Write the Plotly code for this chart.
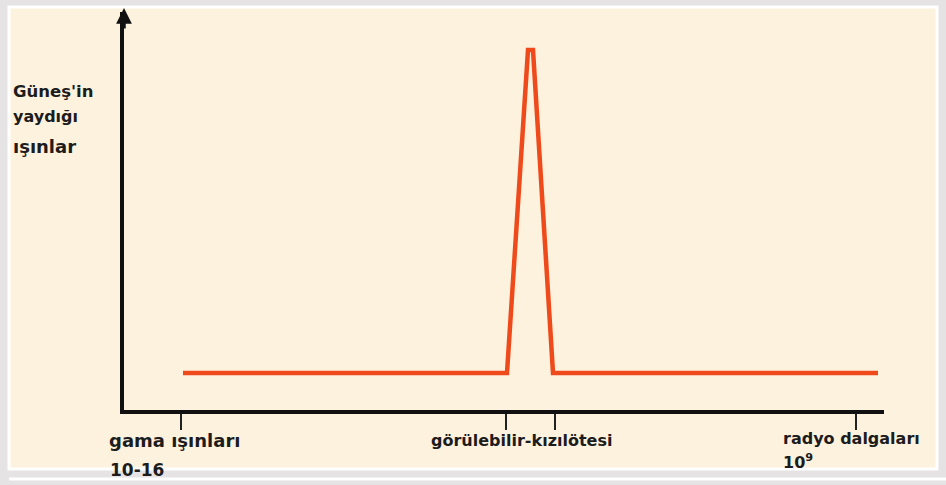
import plotly.graph_objects as go

# spectrum position (arbitrary units along the axis) and emitted intensity
spectrum_pos = [59, 383, 404, 409, 429, 754]
emission = [37, 37, 360, 360, 37, 37]

# marked positions on the horizontal axis
tick_pos = [57, 382, 431, 732]

W, H = 946, 485
L, R, T, B = 124, 62, 12, 75
PW, PH = W - L - R, H - T - B


def px(x):
    return (x - L) / PW


def py(y):
    return (H - B - y) / PH


FONT = "DejaVu Sans, Liberation Sans, Arial, sans-serif"
TXT = "#1c1c1c"

fig = go.Figure()
fig.add_trace(
    go.Scatter(
        x=spectrum_pos,
        y=emission,
        mode="lines",
        line=dict(color="#ef4a1c", width=4.5),
        hoverinfo="skip",
    )
)

# cream panel with white border
fig.add_shape(
    type="rect", xref="paper", yref="paper",
    x0=px(9), x1=px(937), y0=py(7), y1=py(469),
    fillcolor="#fcf2de", line=dict(color="white", width=3), layer="below",
)
fig.add_shape(
    type="line", xref="paper", yref="paper",
    x0=px(9), x1=px(946), y0=py(479), y1=py(479),
    line=dict(color="white", width=3), layer="below",
)

# arrow head on the vertical axis
fig.add_annotation(
    x=0, y=1.01, xref="x domain", yref="y domain",
    ax=0, ay=22, showarrow=True, arrowhead=2, arrowsize=0.9,
    arrowwidth=3.5, arrowcolor="#111", text="",
)

ann = [
    ("<b>Güneş'in</b>", 11, 91, 16.5),
    ("<b>yaydığı</b>", 11, 117, 16),
    ("<b>ışınlar</b>", 11, 146, 18),
    ("<b>gama ışınları</b>", 107, 440, 18),
    ("<b>10-16</b>", 108, 470, 17),
    ("<b>görülebilir-kızılötesi</b>", 429, 440, 16),
    ("<b>radyo dalgaları</b>", 781, 438, 16),
    ("<b>10<sup>9</sup></b>", 781, 461, 16),
]
for text, x, y, size in ann:
    fig.add_annotation(
        x=px(x), y=py(y), xref="paper", yref="paper",
        text=text, showarrow=False, xanchor="left", yanchor="middle",
        font=dict(family=FONT, size=size, color=TXT),
    )

fig.update_xaxes(
    range=[0, PW], showgrid=False, zeroline=False,
    showline=True, linewidth=4, linecolor="#111",
    tickvals=tick_pos, ticks="outside", ticklen=16, tickwidth=2,
    tickcolor="#222", showticklabels=False,
)
fig.update_yaxes(
    range=[0, PH], showgrid=False, zeroline=False,
    showline=True, linewidth=4, linecolor="#111",
    showticklabels=False, ticks="",
)
fig.update_layout(
    width=W, height=H,
    margin=dict(l=L, r=R, t=T, b=B),
    paper_bgcolor="#e5e3e3",
    plot_bgcolor="rgba(0,0,0,0)",
    showlegend=False,
)

fig.write_html(
    "out.html",
    config={"displayModeBar": False},
    post_script="document.body.style.margin = '0';",
)
